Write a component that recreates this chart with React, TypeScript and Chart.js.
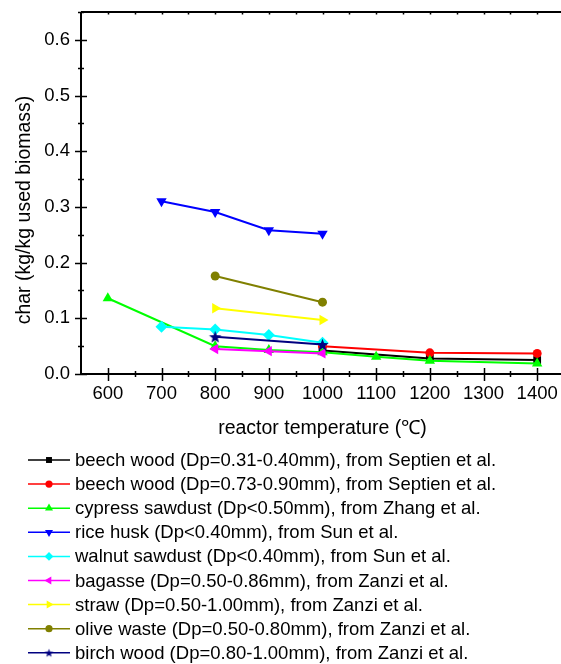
import React, { useEffect, useRef } from 'react';
import { Chart, registerables } from 'chart.js';
import { drawPoint } from 'chart.js/helpers';

Chart.register(...registerables);

// Temperature ticks (°C) and char-yield ticks
const xTicks = [600, 700, 800, 900, 1000, 1100, 1200, 1300, 1400];
const yTicks = [0, 0.1, 0.2, 0.3, 0.4, 0.5, 0.6];

// Char yield (kg/kg used biomass) vs reactor temperature
const beechSmallTemps = [1000, 1200, 1400];
const beechSmallChar = [0.042, 0.028, 0.025];

const beechLargeTemps = [1000, 1200, 1400];
const beechLargeChar = [0.05, 0.038, 0.037];

const cypressTemps = [600, 800, 900, 1000, 1100, 1200, 1400];
const cypressChar = [0.136, 0.05, 0.043, 0.039, 0.031, 0.024, 0.019];

const riceTemps = [700, 800, 900, 1000];
const riceChar = [0.31, 0.291, 0.258, 0.252];

const walnutTemps = [700, 800, 900, 1000];
const walnutChar = [0.085, 0.08, 0.07, 0.056];

const bagasseTemps = [800, 900, 1000];
const bagasseChar = [0.045, 0.041, 0.037];

const strawTemps = [800, 1000];
const strawChar = [0.118, 0.097];

const oliveTemps = [800, 1000];
const oliveChar = [0.176, 0.129];

const birchTemps = [800, 1000];
const birchChar = [0.067, 0.053];

const seriesLabels = [
  'beech wood (Dp=0.31-0.40mm), from Septien et al.',
  'beech wood (Dp=0.73-0.90mm), from Septien et al.',
  'cypress sawdust (Dp<0.50mm), from Zhang et al.',
  'rice husk (Dp<0.40mm), from Sun et al.',
  'walnut sawdust (Dp<0.40mm), from Sun et al.',
  'bagasse (Dp=0.50-0.86mm), from Zanzi et al.',
  'straw (Dp=0.50-1.00mm), from Zanzi et al.',
  'olive waste (Dp=0.50-0.80mm), from Zanzi et al.',
  'birch wood (Dp=0.80-1.00mm), from Zanzi et al.',
];

const FONT = "'Liberation Sans', Arial, Helvetica, sans-serif";

function makeStar(outer: number, color: string): HTMLCanvasElement {
  const size = Math.ceil(outer * 2 + 2);
  const c = document.createElement('canvas');
  c.width = size;
  c.height = size;
  const g = c.getContext('2d')!;
  const cx = size / 2;
  const cy = size / 2 + outer * 0.1;
  const inner = outer * 0.42;
  g.beginPath();
  for (let i = 0; i < 10; i++) {
    const r = i % 2 === 0 ? outer : inner;
    const a = -Math.PI / 2 + (i * Math.PI) / 5;
    const px = cx + r * Math.cos(a);
    const py = cy + r * Math.sin(a);
    if (i === 0) g.moveTo(px, py);
    else g.lineTo(px, py);
  }
  g.closePath();
  g.fillStyle = color;
  g.fill();
  return c;
}

const pts = (xs: number[], ys: number[]) => xs.map((x, i) => ({ x, y: ys[i] }));

export default function App() {
  const ref = useRef<HTMLCanvasElement | null>(null);

  useEffect(() => {
    const canvas = ref.current;
    if (!canvas) return;

    const starBig = makeStar(6.5, '#000080');
    const starSmall = makeStar(4.5, '#000080');

    const styles = [
      { color: '#000000', style: 'rect', rot: 0, r: 5.5, lr: 4.2 },
      { color: '#ff0000', style: 'circle', rot: 0, r: 4.5, lr: 3.6 },
      { color: '#00ff00', style: 'triangle', rot: 0, r: 6, lr: 4.6 },
      { color: '#0000ff', style: 'triangle', rot: 180, r: 6, lr: 4.6 },
      { color: '#00ffff', style: 'rectRot', rot: 0, r: 6, lr: 4.4 },
      { color: '#ff00ff', style: 'triangle', rot: 270, r: 6, lr: 4.6 },
      { color: '#ffff00', style: 'triangle', rot: 90, r: 6, lr: 4.6 },
      { color: '#808000', style: 'circle', rot: 0, r: 4.5, lr: 3.6 },
      { color: '#000080', style: 'star', rot: 0, r: 6, lr: 4.5 },
    ];

    const series = [
      pts(beechSmallTemps, beechSmallChar),
      pts(beechLargeTemps, beechLargeChar),
      pts(cypressTemps, cypressChar),
      pts(riceTemps, riceChar),
      pts(walnutTemps, walnutChar),
      pts(bagasseTemps, bagasseChar),
      pts(strawTemps, strawChar),
      pts(oliveTemps, oliveChar),
      pts(birchTemps, birchChar),
    ];

    const datasets = series.map((data, i) => {
      const s = styles[i];
      return {
        label: seriesLabels[i],
        data,
        borderColor: s.color,
        backgroundColor: s.color,
        borderWidth: 2,
        pointStyle: (s.style === 'star' ? starBig : s.style) as any,
        pointRotation: s.rot,
        pointRadius: s.r,
        pointBorderWidth: 0,
        pointBackgroundColor: s.color,
        pointBorderColor: s.color,
        order: -i,
        fill: false,
        tension: 0,
      };
    });

    const axesPlugin = {
      id: 'originAxes',
      afterDraw(chart: any) {
        const { ctx, chartArea: a } = chart;
        const xs = chart.scales.x;
        const ys = chart.scales.y;
        ctx.save();
        ctx.strokeStyle = '#000';
        ctx.lineCap = 'butt';

        // frame lines
        ctx.lineWidth = 2;
        ctx.beginPath();
        ctx.moveTo(a.left, a.top);
        ctx.lineTo(a.left, a.bottom);
        ctx.lineTo(a.right, a.bottom);
        ctx.moveTo(a.left, a.top);
        ctx.lineTo(a.right, a.top);
        ctx.lineTo(a.right, a.bottom);
        ctx.stroke();

        ctx.lineWidth = 1.5;
        ctx.beginPath();
        // x ticks, crossing the bottom axis
        for (let v = 550; v <= 1450; v += 50) {
          const px = Math.round(xs.getPixelForValue(v)) + 0.5;
          if (px < a.left + 1 || px > a.right - 1) continue;
          const major = v % 100 === 0;
          ctx.moveTo(px, a.bottom - (major ? 6 : 3));
          ctx.lineTo(px, a.bottom + (major ? 7 : 3));
          ctx.moveTo(px, a.top);
          ctx.lineTo(px, a.top + 2.5);
        }
        // y ticks, crossing the left axis
        for (let k = 0; k <= 13; k++) {
          const v = k * 0.05;
          const py = Math.round(ys.getPixelForValue(v)) + 0.5;
          const major = k % 2 === 0;
          ctx.moveTo(a.left - (major ? 6 : 3), py);
          ctx.lineTo(a.left + (major ? 6 : 3), py);
        }
        ctx.stroke();

        // axis titles
        ctx.fillStyle = '#000';
        ctx.font = `19.5px ${FONT}`;
        ctx.textAlign = 'center';
        ctx.textBaseline = 'middle';
        ctx.fillText('reactor temperature (\u2103)', xs.getPixelForValue(1000), 429);
        ctx.save();
        ctx.translate(25, 210);
        ctx.rotate(-Math.PI / 2);
        ctx.fillText('char (kg/kg used biomass)', 0, 0);
        ctx.restore();

        // legend
        const rowTop = 460;
        const rowStep = 24.1;
        chart.data.datasets.forEach((ds: any, i: number) => {
          const s = styles[i];
          const y = rowTop + i * rowStep;
          ctx.strokeStyle = s.color;
          ctx.lineWidth = 1.5;
          ctx.beginPath();
          ctx.moveTo(28, y);
          ctx.lineTo(70, y);
          ctx.stroke();
          ctx.fillStyle = s.color;
          ctx.strokeStyle = s.color;
          drawPoint(
            ctx,
            {
              pointStyle: s.style === 'star' ? starSmall : s.style,
              rotation: s.rot,
              radius: s.lr,
              borderWidth: 0,
            } as any,
            49,
            y
          );
          ctx.fillStyle = '#000';
          ctx.textAlign = 'left';
          ctx.textBaseline = 'middle';
          ctx.font = `18.5px ${FONT}`;
          ctx.fillText(ds.label, 75, y + 1);
        });
        ctx.restore();
      },
    };

    const chart = new Chart(canvas, {
      type: 'line',
      data: { datasets: datasets as any },
      options: {
        animation: false,
        responsive: false,
        devicePixelRatio: 1,
        layout: { padding: { top: 12, left: 0, right: 5, bottom: 0 } },
        plugins: {
          legend: { display: false },
          tooltip: { enabled: false },
          title: { display: false },
        },
        scales: {
          x: {
            type: 'linear',
            min: 550,
            max: 1450,
            grid: { display: false, drawTicks: false },
            border: { display: false },
            afterBuildTicks(scale: any) {
              scale.ticks = xTicks.map((v) => ({ value: v }));
            },
            afterFit(scale: any) {
              scale.height = 290;
              scale.paddingLeft = 0;
              scale.paddingRight = 0;
            },
            ticks: {
              color: '#000',
              font: { family: FONT, size: 18.5 },
              padding: 9,
              maxRotation: 0,
              autoSkip: false,
              callback: (v: any) => String(v),
            },
          },
          y: {
            type: 'linear',
            min: 0,
            max: 0.65,
            grid: { display: false, drawTicks: false },
            border: { display: false },
            afterBuildTicks(scale: any) {
              scale.ticks = yTicks.map((v) => ({ value: v }));
            },
            afterFit(scale: any) {
              scale.width = 81;
              scale.paddingTop = 0;
              scale.paddingBottom = 0;
            },
            ticks: {
              color: '#000',
              font: { family: FONT, size: 18.5 },
              padding: 11,
              autoSkip: false,
              callback: (v: any) => Number(v).toFixed(1),
            },
          },
        },
      },
      plugins: [axesPlugin],
    });

    return () => chart.destroy();
  }, []);

  return (
    <div
      style={{
        position: 'absolute',
        left: 0,
        top: 0,
        width: 561,
        height: 664,
        overflow: 'hidden',
        background: '#fff',
      }}
    >
      <canvas ref={ref} width={570} height={664} style={{ width: 570, height: 664, display: 'block' }} />
    </div>
  );
}
